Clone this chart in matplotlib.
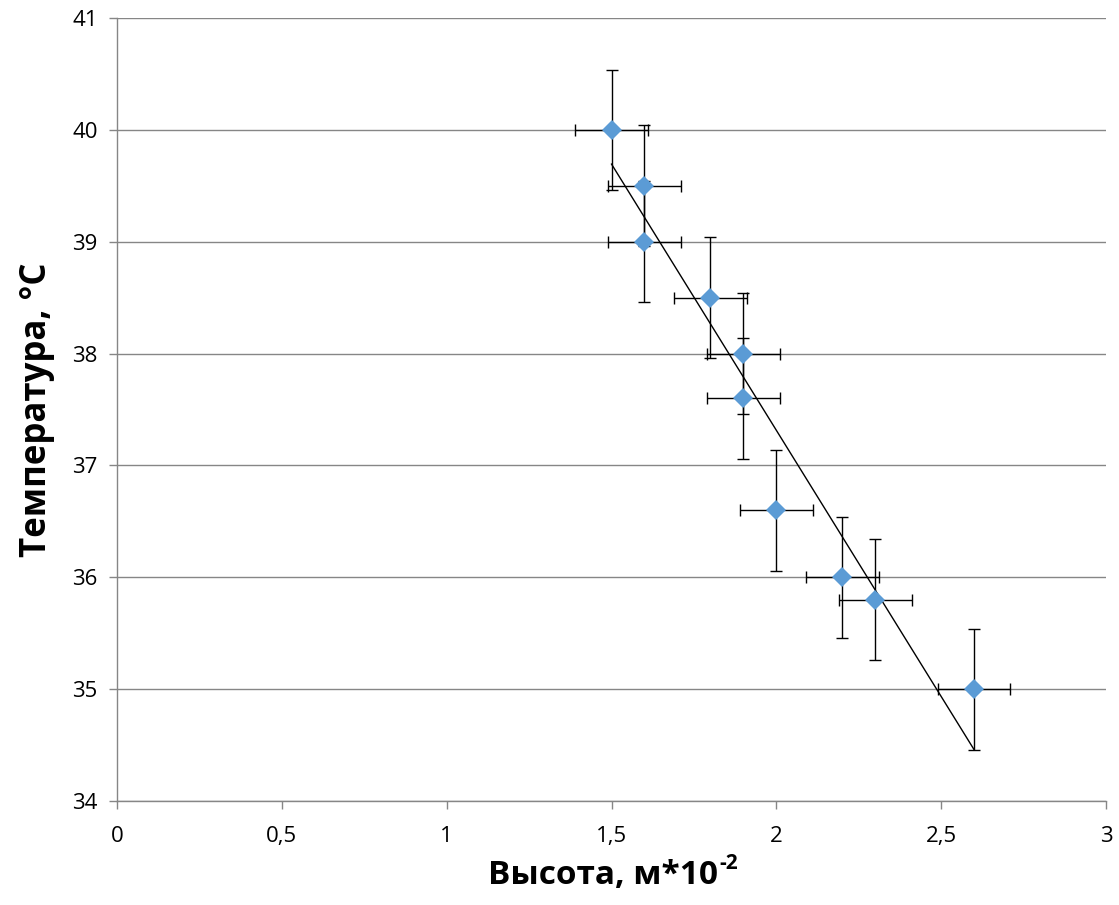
import matplotlib
matplotlib.use('Agg')
import matplotlib.pyplot as plt
import numpy as np
from matplotlib.ticker import FuncFormatter

# Data
height = [1.5, 1.6, 1.6, 1.8, 1.9, 1.9, 2.0, 2.2, 2.3, 2.6]       # m*10^-2
temperature = [40, 39.5, 39, 38.5, 38, 37.6, 36.6, 36, 35.8, 35]  # °C
x_err = 0.11
y_err = 0.54

x_ticks = [0, 0.5, 1, 1.5, 2, 2.5, 3]
y_ticks = [34, 35, 36, 37, 38, 39, 40, 41]

plt.rcParams['font.family'] = ['Open Sans', 'DejaVu Sans']

fig, ax = plt.subplots(figsize=(11.19, 9.05), dpi=100)
fig.subplots_adjust(left=0.1046, right=0.9884, top=0.980, bottom=0.1149)

# error bars + markers
ax.errorbar(height, temperature, xerr=x_err, yerr=y_err, fmt='none',
            ecolor='black', elinewidth=1, capsize=4.5, capthick=1, zorder=3)
ax.plot(height, temperature, 'D', color='#5B9BD5', markersize=9.7,
        markeredgewidth=0, zorder=5)

# linear trend line
k, b = np.polyfit(height, temperature, 1)
xs = np.array([min(height), max(height)])
ax.plot(xs, k * xs + b, color='black', linewidth=1, zorder=4)

ax.set_xlim(0, 3)
ax.set_ylim(34, 41)
ax.set_xticks(x_ticks)
ax.set_yticks(y_ticks)
comma = FuncFormatter(lambda v, p: ('%g' % v).replace('.', ','))
ax.xaxis.set_major_formatter(comma)
ax.yaxis.set_major_formatter(comma)

ax.grid(axis='y', color='#868686', linewidth=1)
ax.set_axisbelow(True)
for s in ['top', 'right']:
    ax.spines[s].set_visible(False)
for s in ['left', 'bottom']:
    ax.spines[s].set_color('#868686')
    ax.spines[s].set_linewidth(1)
ax.tick_params(axis='both', colors='#868686', labelcolor='black',
               labelsize=16, length=6, width=1)
ax.tick_params(axis='x', pad=12)
ax.tick_params(axis='y', pad=8)

xlab = ax.set_xlabel('Высота, м*10', fontsize=24, fontweight='bold')
ax.xaxis.set_label_coords(0.491, -0.074)
ax.annotate('-2', xy=(1, 1), xycoords=xlab, xytext=(1, 4),
            textcoords='offset points', fontsize=15, fontweight='bold',
            ha='left', va='top')
ax.set_ylabel('Температура, °C', fontsize=25, fontweight='bold', labelpad=12)

fig.savefig('out.png', dpi=100)
